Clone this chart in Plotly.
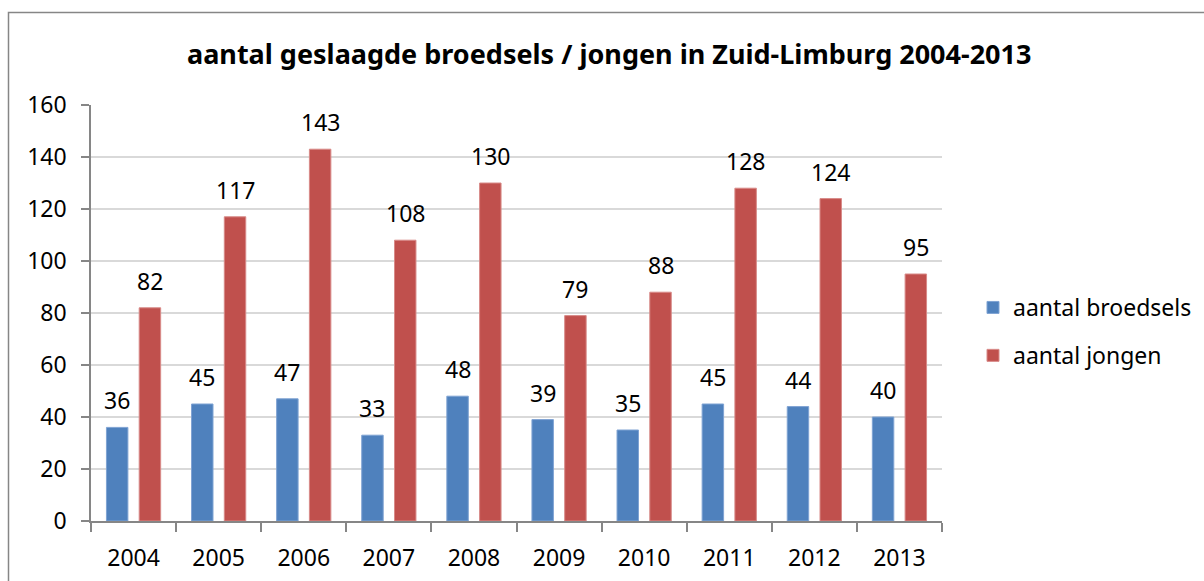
import plotly.graph_objects as go

years = ["2004", "2005", "2006", "2007", "2008", "2009", "2010", "2011", "2012", "2013"]
broedsels = [36, 45, 47, 33, 48, 39, 35, 45, 44, 40]
jongen = [82, 117, 143, 108, 130, 79, 88, 128, 124, 95]
y_ticks = [0, 20, 40, 60, 80, 100, 120, 140, 160]

FONT = "Noto Sans"
W, H = 1204, 581
L, R, T, B = 91, 262, 105, 60
pw = W - L - R
ph = H - T - B

blue = "#4F81BD"
red = "#C0504D"

fig = go.Figure()
fig.add_trace(go.Bar(x=years, y=broedsels, name="aantal broedsels", marker=dict(color=blue, line=dict(color="#7FA3D3", width=1)),
                     legendgroup="a"))
fig.add_trace(go.Bar(x=years, y=jongen, name="aantal jongen", marker=dict(color=red, line=dict(color="#D88A88", width=1)),
                     legendgroup="b"))

cat_w = pw / len(years)
slot = cat_w * (1 - 0.23) / 2
for vals, sh in ((broedsels, -slot / 2), (jongen, slot / 2)):
    for i, v in enumerate(vals):
        fig.add_annotation(x=i, y=v, text=str(v), showarrow=False, xshift=sh, yshift=9,
                           yanchor="bottom", font=dict(family=FONT, size=23, color="#000"))

x0 = (8.5 - L) / pw
y1 = 1 + (T - 12.5) / ph
fig.add_shape(type="rect", xref="paper", yref="paper", x0=x0, x1=(W + 20 - L) / pw, y0=-(B + 20) / ph, y1=y1,
              line=dict(color="#868686", width=1.5), layer="below")

fig.update_layout(
    width=W, height=H,
    margin=dict(l=L, r=R, t=T, b=B, autoexpand=False),
    paper_bgcolor="white", plot_bgcolor="white",
    barmode="group", bargap=0.23, bargroupgap=0.345,
    title=dict(text="<b>aantal geslaagde broedsels / jongen in Zuid-Limburg 2004-2013</b>",
               x=0.506, xanchor="center", y=1 - 55 / H, yanchor="middle",
               font=dict(family=FONT, size=27, color="#000")),
    font=dict(family=FONT, size=23, color="#000"),
    legend=dict(x=(973 - L) / pw, y=1 - (286 - T) / ph, xanchor="left", yanchor="top",
                font=dict(family=FONT, size=23), tracegroupgap=15, itemwidth=30, bgcolor="rgba(0,0,0,0)"),
    showlegend=True,
)
fig.update_xaxes(type="category", range=[-0.5, len(years) - 0.5], showline=True, linecolor="#868686", linewidth=1.5,
                 ticks="outside", tickson="boundaries", ticklen=9, tickcolor="#868686", tickwidth=1.5,
                 showgrid=False, tickfont=dict(family=FONT, size=23), ticklabelstandoff=16)
fig.update_yaxes(range=[0, 160], tickvals=y_ticks, showline=True, linecolor="#868686", linewidth=1.5,
                 ticks="outside", ticklen=8, tickcolor="#868686", tickwidth=1.5,
                 showgrid=True, gridcolor="#D9D9D9", gridwidth=1.5, zeroline=False,
                 tickfont=dict(family=FONT, size=23), ticklabelstandoff=10)

fig.write_html("out.html", config={"displayModeBar": False},
               post_script="document.body.style.margin='0px';document.body.style.overflow='hidden';")
